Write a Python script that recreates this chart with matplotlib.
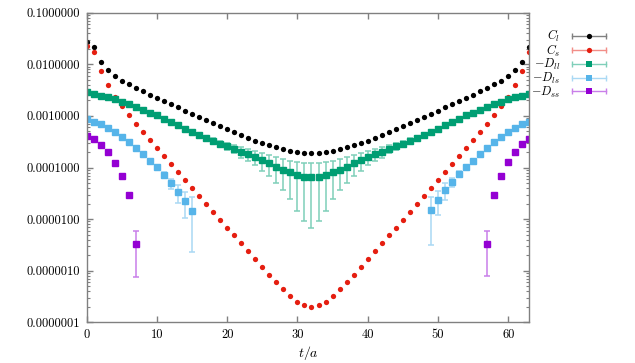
import numpy as np
import matplotlib
matplotlib.use('Agg')
import matplotlib.pyplot as plt
from matplotlib.lines import Line2D
from matplotlib.legend_handler import HandlerLine2D
from matplotlib.ticker import LogLocator, FixedLocator, NullFormatter, FuncFormatter

plt.rcParams['font.family'] = 'serif'
plt.rcParams['font.serif'] = ['cmr10', 'DejaVu Serif']
plt.rcParams['mathtext.fontset'] = 'cm'
plt.rcParams['axes.unicode_minus'] = False

# ---- data ----
t_all = list(range(64))

C_l = [2.66e-2, 2.13e-2, 1.12e-2, 7.71e-3, 5.90e-3, 4.79e-3, 4.13e-3, 3.50e-3,
       3.02e-3, 2.56e-3, 2.24e-3, 1.96e-3, 1.69e-3, 1.48e-3, 1.27e-3, 1.10e-3,
       9.44e-4, 8.34e-4, 7.28e-4, 6.38e-4, 5.55e-4, 4.82e-4, 4.29e-4, 3.80e-4,
       3.33e-4, 2.99e-4, 2.70e-4, 2.47e-4, 2.25e-4, 2.09e-4, 2.00e-4, 1.94e-4,
       1.91e-4, 1.94e-4, 2.00e-4, 2.09e-4, 2.25e-4, 2.47e-4, 2.70e-4, 2.99e-4,
       3.33e-4, 3.80e-4, 4.29e-4, 4.82e-4, 5.55e-4, 6.38e-4, 7.28e-4, 8.34e-4,
       9.44e-4, 1.10e-3, 1.27e-3, 1.48e-3, 1.69e-3, 1.96e-3, 2.24e-3, 2.56e-3,
       3.02e-3, 3.50e-3, 4.13e-3, 4.79e-3, 5.90e-3, 7.71e-3, 1.12e-2, 2.13e-2]

C_s = [2.22e-2, 1.73e-2, 7.38e-3, 3.89e-3, 2.34e-3, 1.54e-3, 1.03e-3, 7.00e-4,
       4.90e-4, 3.43e-4, 2.39e-4, 1.67e-4, 1.17e-4, 8.07e-5, 5.75e-5, 4.01e-5,
       2.84e-5, 1.99e-5, 1.39e-5, 9.75e-6, 6.82e-6, 4.85e-6, 3.39e-6, 2.41e-6,
       1.69e-6, 1.18e-6, 8.38e-7, 5.96e-7, 4.36e-7, 3.18e-7, 2.47e-7, 2.13e-7,
       2.01e-7, 2.13e-7, 2.47e-7, 3.18e-7, 4.36e-7, 5.96e-7, 8.38e-7, 1.18e-6,
       1.69e-6, 2.41e-6, 3.39e-6, 4.85e-6, 6.82e-6, 9.75e-6, 1.39e-5, 1.99e-5,
       2.84e-5, 4.01e-5, 5.75e-5, 8.07e-5, 1.17e-4, 1.67e-4, 2.39e-4, 3.43e-4,
       4.90e-4, 7.00e-4, 1.03e-3, 1.54e-3, 2.34e-3, 3.89e-3, 7.38e-3, 1.73e-2]

D_ll = [2.87e-3, 2.64e-3, 2.48e-3, 2.31e-3, 2.11e-3, 1.90e-3, 1.69e-3, 1.50e-3,
        1.33e-3, 1.16e-3, 1.02e-3, 8.75e-4, 7.55e-4, 6.59e-4, 5.69e-4, 4.90e-4,
        4.29e-4, 3.78e-4, 3.31e-4, 2.90e-4, 2.61e-4, 2.32e-4, 2.03e-4, 1.80e-4,
        1.60e-4, 1.38e-4, 1.21e-4, 1.04e-4, 9.10e-5, 8.07e-5, 7.16e-5, 6.65e-5,
        6.46e-5, 6.65e-5, 7.16e-5, 8.07e-5, 9.10e-5, 1.04e-4, 1.21e-4, 1.38e-4,
        1.60e-4, 1.80e-4, 2.03e-4, 2.32e-4, 2.61e-4, 2.90e-4, 3.31e-4, 3.78e-4,
        4.29e-4, 4.90e-4, 5.69e-4, 6.59e-4, 7.55e-4, 8.75e-4, 1.02e-3, 1.16e-3,
        1.33e-3, 1.50e-3, 1.69e-3, 1.90e-3, 2.11e-3, 2.31e-3, 2.48e-3, 2.64e-3]
D_ll_err = [4e-6, 4e-6, 5e-6, 6e-6, 7e-6, 8e-6, 9e-6, 1.0e-5,
            1.2e-5, 1.4e-5, 1.6e-5, 1.9e-5, 2.2e-5, 2.5e-5, 2.8e-5, 3.1e-5,
            3.4e-5, 3.7e-5, 3.9e-5, 4.1e-5, 4.3e-5, 4.5e-5, 4.7e-5, 4.9e-5,
            5.0e-5, 5.15e-5, 5.3e-5, 5.4e-5, 5.5e-5, 5.6e-5, 5.7e-5, 5.75e-5,
            5.8e-5, 5.75e-5, 5.7e-5, 5.6e-5, 5.5e-5, 5.4e-5, 5.3e-5, 5.15e-5,
            5.0e-5, 4.9e-5, 4.7e-5, 4.5e-5, 4.3e-5, 4.1e-5, 3.9e-5, 3.7e-5,
            3.4e-5, 3.1e-5, 2.8e-5, 2.5e-5, 2.2e-5, 1.9e-5, 1.6e-5, 1.4e-5,
            1.2e-5, 1.0e-5, 9e-6, 8e-6, 7e-6, 6e-6, 5e-6, 4e-6]

t_ls = list(range(0, 16)) + list(range(49, 64))
D_ls = [8.75e-4, 7.78e-4, 6.90e-4, 5.86e-4, 4.82e-4, 3.92e-4, 3.08e-4, 2.39e-4,
        1.83e-4, 1.36e-4, 1.01e-4, 7.28e-5, 5.01e-5, 3.35e-5, 2.24e-5, 1.43e-5,
        1.52e-5, 2.38e-5, 3.66e-5, 5.30e-5, 7.48e-5, 1.02e-4, 1.36e-4, 1.83e-4,
        2.39e-4, 3.08e-4, 3.92e-4, 4.82e-4, 5.86e-4, 6.90e-4, 7.78e-4]
D_ls_err = [2e-6, 2e-6, 2e-6, 3e-6, 3e-6, 3e-6, 4e-6, 4e-6,
            5e-6, 6e-6, 7e-6, 9e-6, 1.1e-5, 1.28e-5, 1.17e-5, 1.2e-5,
            1.2e-5, 1.17e-5, 1.28e-5, 1.1e-5, 1.07e-5, 7e-6, 6e-6, 5e-6,
            4e-6, 4e-6, 3e-6, 3e-6, 3e-6, 2e-6, 2e-6]

t_ss = list(range(0, 8)) + list(range(57, 64))
D_ss = [4.14e-4, 3.53e-4, 2.78e-4, 1.97e-4, 1.22e-4, 6.84e-5, 2.97e-5, 3.27e-6,
        3.30e-6, 2.98e-5, 6.95e-5, 1.26e-4, 1.97e-4, 2.81e-4, 3.56e-4]
D_ss_err = [1e-6, 1e-6, 1.5e-6, 1.5e-6, 2e-6, 2e-6, 2.5e-6, 2.5e-6,
            2.5e-6, 2.5e-6, 2e-6, 2e-6, 1.5e-6, 1.5e-6, 1e-6]

x_ticks = [0, 10, 20, 30, 40, 50, 60]
y_ticks = [1e-7, 1e-6, 1e-5, 1e-4, 1e-3, 1e-2, 1e-1]

labels = [r'$C_l$', r'$C_s$', r'$-D_{ll}$', r'$-D_{ls}$', r'$-D_{ss}$']
colors = ['#000000', '#e51e10', '#009e73', '#56b4e9', '#9400d3']
bar_colors = ['#808080', '#f28e88', '#7fcfb9', '#aad9f4', '#c97fe9']

fig = plt.figure(figsize=(6.35, 3.63), dpi=100)
ax = fig.add_axes([0.1365, 0.112, 0.697, 0.853])

ax.plot(t_all, C_l, 'o', color=colors[0], ms=3.8, mew=0)
ax.plot(t_all, C_s, 'o', color=colors[1], ms=3.8, mew=0)
ax.errorbar(t_all, D_ll, yerr=D_ll_err, fmt='s', color=colors[2], ecolor=bar_colors[2],
            ms=4.2, mec=colors[2], elinewidth=1.1, capsize=2.2, capthick=1.1)
ax.errorbar(t_ls, D_ls, yerr=D_ls_err, fmt='s', color=colors[3], ecolor=bar_colors[3],
            ms=4.2, mec=colors[3], elinewidth=1.1, capsize=2.2, capthick=1.1)
ax.errorbar(t_ss, D_ss, yerr=D_ss_err, fmt='s', color=colors[4], ecolor=bar_colors[4],
            ms=4.2, mec=colors[4], elinewidth=1.1, capsize=2.2, capthick=1.1)

ax.set_yscale('log')
ax.set_ylim(1e-7, 1e-1)
ax.set_xlim(0, 63)
ax.xaxis.set_major_locator(FixedLocator(x_ticks))
ax.yaxis.set_major_locator(FixedLocator(y_ticks))
ax.yaxis.set_minor_locator(LogLocator(base=10, subs=np.arange(2, 10), numticks=20))
ax.yaxis.set_minor_formatter(NullFormatter())
ax.yaxis.set_major_formatter(FuncFormatter(lambda v, p: '%.7f' % v))

for s in ax.spines.values():
    s.set_color('#808080')
    s.set_linewidth(1)
ax.tick_params(which='both', direction='in', top=True, right=True, color='#808080',
               labelsize=9, labelcolor='black')
ax.tick_params(which='major', length=4.5, width=1, pad=5)
ax.tick_params(which='minor', length=2.3, width=0.8)
ax.set_xlabel(r'$t/a$', fontsize=10, labelpad=2)

# gnuplot style key: label, then horizontal line with caps and a marker
handles = []
hmap = {}
for i in range(5):
    bar = Line2D([], [], color=bar_colors[i], lw=1, marker='|', ms=5, mew=1)
    mk = Line2D([], [], color=colors[i], ls='none', marker='o' if i < 2 else 's',
                ms=3.8 if i < 2 else 4.2, mew=0)
    hmap[bar] = HandlerLine2D(numpoints=2, marker_pad=0)
    hmap[mk] = HandlerLine2D(numpoints=1)
    handles.append((bar, mk))
leg = fig.legend(handles, labels, handler_map=hmap, loc='upper right',
                 bbox_to_anchor=(606 / 635, 1 - 28 / 363), frameon=False,
                 markerfirst=False, fontsize=8.8, handlelength=2.8,
                 handletextpad=0.95, labelspacing=-0.12, borderpad=0, borderaxespad=0)
for col in leg._legend_handle_box.get_children():
    col.align = 'right'

fig.savefig('out.png', dpi=100)
